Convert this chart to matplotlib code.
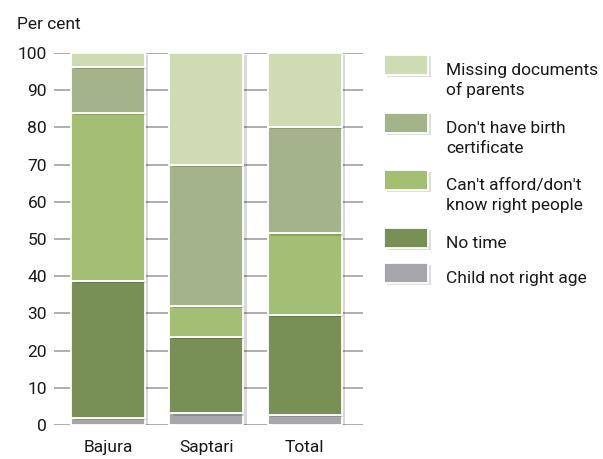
import matplotlib
matplotlib.use("Agg")
import matplotlib.pyplot as plt
from matplotlib.patches import Rectangle
import matplotlib.patheffects as pe
import numpy as np

categories = ["Bajura", "Saptari", "Total"]
series_names = ["Child not right age", "No time", "Can't afford/don't\nknow right people",
                "Don't have birth\ncertificate", "Missing documents\nof parents"]
child_not_right_age = [1.8, 3.1, 2.8]
no_time = [36.9, 20.5, 26.9]
cant_afford = [45.1, 8.4, 21.8]
no_birth_certificate = [12.4, 37.9, 28.6]
missing_documents = [3.8, 30.1, 19.9]
yticks = [0, 10, 20, 30, 40, 50, 60, 70, 80, 90, 100]

colors = ["#a7a7ab", "#788f55", "#a3bf74", "#a5b38a", "#cfdbb3"]
series = [child_not_right_age, no_time, cant_afford, no_birth_certificate, missing_documents]

FONT = ["Roboto", "DejaVu Sans"]
plt.rcParams['font.family'] = FONT
FS = 12.5
TXT = "#1a1a1a"

W, H = 603, 459
fig = plt.figure(figsize=(W / 100, H / 100), dpi=100)
ax = fig.add_axes([54 / W, (H - 425) / H, 309 / W, 372 / H])

x = np.arange(len(categories))
bottom = np.zeros(len(categories))
shadow = [pe.SimplePatchShadow(offset=(2.5, -1.5), shadow_rgbFace="#000000", alpha=0.15), pe.Normal()]
for vals, c in zip(series, colors):
    bars = ax.bar(x, vals, width=0.75, bottom=bottom, color=c, edgecolor="white",
                  linewidth=1.3, zorder=3)
    for b in bars:
        b.set_path_effects(shadow)
    bottom += np.array(vals)

ax.set_xlim(-0.549, 2.593)
ax.set_ylim(0, 100)
ax.set_yticks(yticks)
ax.set_yticklabels([str(t) for t in yticks], fontsize=FS, color=TXT)
ax.set_xticks(x)
ax.set_xticklabels(categories, fontsize=FS, color=TXT)
ax.tick_params(axis="both", length=0)
ax.tick_params(axis="y", pad=5)
ax.tick_params(axis="x", pad=11)
ax.grid(axis="y", color="#999999", linewidth=1.1, zorder=0)
ax.set_axisbelow(True)
for s in ax.spines.values():
    s.set_visible(False)

fig.text(17 / W, 1 - 29 / H, "Per cent", fontsize=FS, color=TXT, va="baseline", ha="left")

# legend
leg_tops = [55, 113, 170, 228, 263]
order = [4, 3, 2, 1, 0]
for top, i in zip(leg_tops, order):
    sh = Rectangle(((384 + 2.5) / W, 1 - (top + 20 + 1.5) / H), 44 / W, 20 / H,
                   transform=fig.transFigure, facecolor="#000000", alpha=0.13, edgecolor="none")
    fig.patches.append(sh)
    r = Rectangle((384 / W, 1 - (top + 20) / H), 44 / W, 20 / H, transform=fig.transFigure,
                  facecolor=colors[i], edgecolor="white", linewidth=1.3)
    fig.patches.append(r)
    for k, line in enumerate(series_names[i].split("\n")):
        fig.text(446 / W, 1 - (top + 20 + 20 * k) / H, line, fontsize=FS, color=TXT,
                 va="baseline", ha="left")

fig.savefig("out.png", dpi=100, facecolor="white")
